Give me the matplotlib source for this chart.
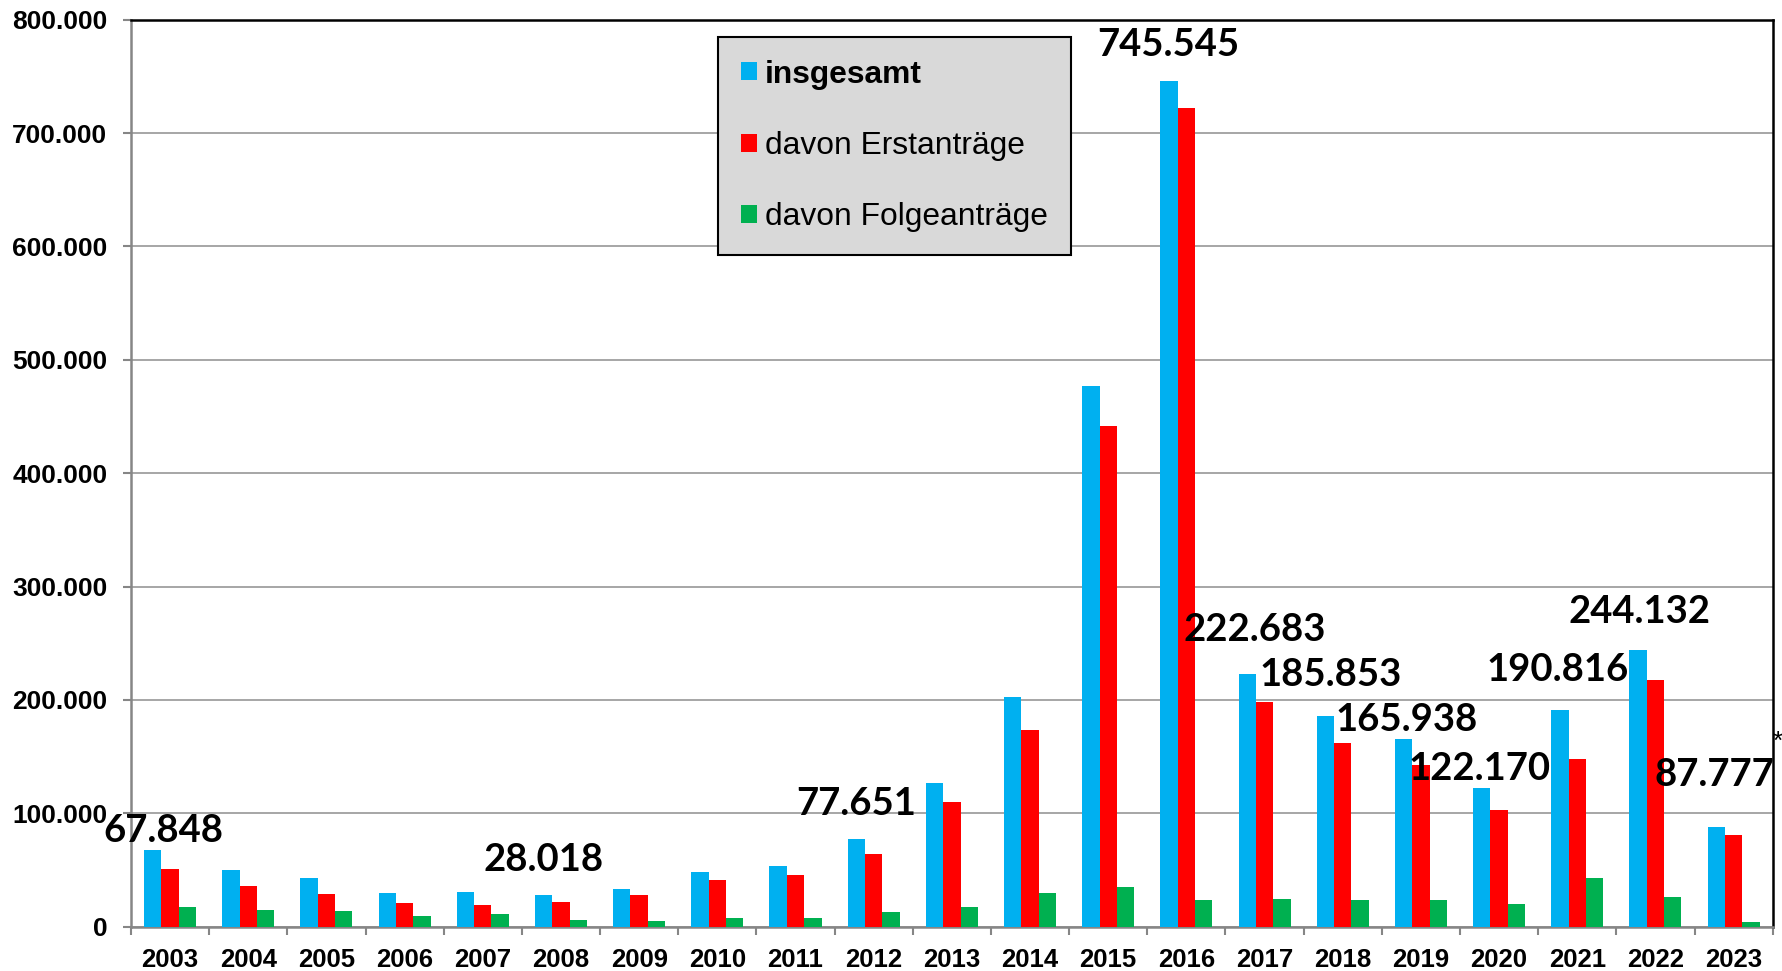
import matplotlib
matplotlib.use("Agg")
import matplotlib.pyplot as plt
import numpy as np
from matplotlib.patches import Patch

years = ["2003", "2004", "2005", "2006", "2007", "2008", "2009", "2010", "2011", "2012",
         "2013", "2014", "2015", "2016", "2017", "2018", "2019", "2020", "2021", "2022", "2023"]
insgesamt = [67848, 50152, 42908, 30100, 30303, 28018, 33033, 48589, 53347, 77651,
             127023, 202834, 476649, 745545, 222683, 185853, 165938, 122170, 190816, 244132, 87777]
erstantraege = [50563, 35607, 28914, 21029, 19164, 22085, 27649, 41332, 45741, 64539,
                109580, 173072, 441899, 722370, 198317, 161931, 142509, 102581, 148233, 217774, 80700]
folgeantraege = [17285, 14545, 13994, 9071, 11139, 5933, 5384, 7257, 7606, 13112,
                 17443, 29762, 34750, 23175, 24366, 23922, 23429, 19589, 42583, 26358, 4200]
series_names = ["insgesamt", "davon Erstanträge", "davon Folgeanträge"]
colors = ["#00b0f0", "#ff0000", "#00b050"]

# data labels: (text, x position, y position)
label_texts = ["67.848", "28.018", "77.651", "745.545", "222.683", "185.853",
               "165.938", "122.170", "190.816", "244.132", "87.777"]
label_x = [-0.08, 4.78, 8.77, 12.77, 13.88, 14.85, 15.82, 16.75, 17.75, 18.79, 19.76]
label_y = [84600, 59200, 108300, 777300, 261700, 222000, 182300, 139400, 226600, 277800, 133800]

W, H, DPI = 1783, 971, 100
fig = plt.figure(figsize=(W / DPI, H / DPI), dpi=DPI)
ax = fig.add_axes([131 / W, (H - 926.7) / H, (1772.7 - 131) / W, (926.7 - 19.7) / H])

x = np.arange(len(years))
bw = 0.222
for i, (vals, c, name) in enumerate(zip([insgesamt, erstantraege, folgeantraege], colors, series_names)):
    ax.bar(x + (i - 1) * bw, vals, width=bw, color=c, label=name, zorder=3)

ax.set_xlim(-0.5, len(years) - 0.5)
ax.set_ylim(0, 800000)

yt = np.arange(0, 800001, 100000)
ax.set_yticks(yt)
ax.set_yticklabels([f"{v:,.0f}".replace(",", ".") for v in yt],
                   fontsize=19, fontweight="bold", family="Liberation Sans")
ax.yaxis.grid(True, color="#a6a6a6", linewidth=1.4, zorder=0)

ax.set_xticks(np.arange(-0.5, len(years) - 0.4, 1))
ax.set_xticklabels([])
ax.set_xticks(x, minor=True)
ax.set_xticklabels(years, minor=True, fontsize=18.5, fontweight="bold", family="Liberation Sans")
ax.tick_params(axis="x", which="major", length=6, width=1.5, color="#868686", direction="out")
ax.tick_params(axis="x", which="minor", length=0, pad=15)
ax.tick_params(axis="y", length=6, width=1.5, color="#868686", direction="out", pad=11)

for s in ["left", "bottom"]:
    ax.spines[s].set_color("#868686")
    ax.spines[s].set_linewidth(1.8)
for s in ["top", "right"]:
    ax.spines[s].set_color("black")
    ax.spines[s].set_linewidth(1.8)

for t, lx, ly in zip(label_texts, label_x, label_y):
    ax.text(lx, ly, t, ha="center", va="center", fontsize=27.5, fontweight="bold",
            family="Lato", zorder=5)
ax.text(20.57, 163200, "*", ha="center", va="center", fontsize=19, family="Liberation Sans",
        clip_on=False)

handles = [Patch(facecolor=c, edgecolor="none") for c in colors]
ax_l, ax_b = 131, 926.7
ax_w, ax_h = 1772.7 - 131, 926.7 - 19.7
bx = (718.3 - ax_l) / ax_w
by = (ax_b - 36.7) / ax_h
leg = ax.legend(handles, series_names, loc="upper left", bbox_to_anchor=(bx, by),
                prop={"family": "Liberation Sans", "size": 22.9},
                frameon=True, fancybox=False, facecolor="#d9d9d9", edgecolor="black",
                framealpha=1, handlelength=0.5, handleheight=0.5, handletextpad=0.25,
                labelspacing=1.3, borderpad=0.72, borderaxespad=0)
leg.get_frame().set_linewidth(1.5)
leg.get_texts()[0].set_fontweight("bold")
leg.set_zorder(6)

fig.savefig("out.png", dpi=DPI)
